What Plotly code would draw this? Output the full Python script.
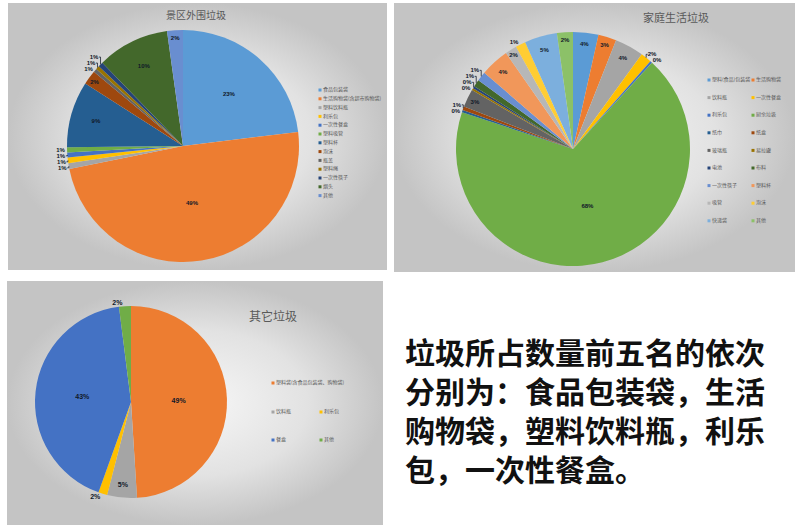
import plotly.graph_objects as go

W, H = 797, 527

# ---------------- data ----------------
title1 = "景区外围垃圾"
labels1 = ["食品包装袋", "生活购物袋(含超市购物袋)", "塑料饮料瓶", "利乐包", "一次性餐盒",
           "塑料吸管", "塑料杯", "泡沫", "瓶盖", "塑料绳", "一次性筷子", "烟头", "其他"]
values1 = [23, 48.6, 0.8, 0.8, 0.7, 0.7, 9.2, 2, 0.5, 0.5, 0.7, 10, 2.2]

title2 = "家庭生活垃圾"
labels2 = ["塑料(食品)包装袋", "生活购物袋", "饮料瓶", "一次性餐盒", "利乐包", "厨余垃圾",
           "纸巾", "纸盒", "玻璃瓶", "易拉罐", "电池", "布料", "一次性筷子", "塑料杯",
           "吸管", "泡沫", "快递袋", "其他"]
values2 = [3.5, 2.5, 4, 1.5, 0.3, 68.3, 0.3, 0.5, 2.5, 0.3, 0.3, 1, 1.3, 4, 1.6, 1.4, 4.5, 2.2]

title3 = "其它垃圾"
labels3 = ["塑料袋(含食品包装袋、购物袋)", "饮料瓶", "利乐包", "餐盒", "其他"]
values3 = [49, 5, 1.5, 42.5, 2]

summary = ["垃圾所占数量前五名的依次", "分别为：食品包装袋，生活", "购物袋，塑料饮料瓶，利乐", "包，一次性餐盒。"]

# ---------------- styles ----------------
office = ["#5B9BD5", "#ED7D31", "#A5A5A5", "#FFC000", "#4472C4", "#70AD47",
          "#255E91", "#9E480E", "#636363", "#997300", "#264478", "#43682B",
          "#698ED0", "#F1975A", "#B7B7B7", "#FFCD33", "#7CAFDD", "#8CC168"]
colors3 = ["#ED7D31", "#A5A5A5", "#FFC000", "#4472C4", "#70AD47"]
CJK = "Noto Sans CJK SC"
LBL = "#101828"


def dom(cx, cy, r):
    return dict(x=[(cx - r) / W, (cx + r) / W], y=[1 - (cy + r) / H, 1 - (cy - r) / H])


fig = go.Figure()

# panel backgrounds (radial grey gradient)
panels = [(8, 3, 387, 270), (394, 3, 795, 272), (7, 281, 383, 525)]
for (x0, y0, x1, y1) in panels:
    fig.add_trace(go.Scatter(
        x=[x0, x1, x1, x0, x0], y=[y0, y0, y1, y1, y0], mode="lines",
        line=dict(width=0), fill="toself",
        fillgradient=dict(type="radial", colorscale=[[0, "#f7f7f7"], [0.6, "#e2e2e2"], [1, "#c4c4c4"]]),
        hoverinfo="skip", showlegend=False, xaxis="x", yaxis="y"))
# lighter legend box in panel 2
fig.add_shape(type="rect", xref="x", yref="y", x0=703, x1=795, y0=62, y1=236,
              fillcolor="rgba(250,250,250,0.75)", line=dict(width=0), layer="below")


def pie(values, labels, colors, d, fs=6):
    return go.Pie(values=values, labels=labels, sort=False, direction="clockwise", rotation=0,
                  marker=dict(colors=colors, line=dict(width=0)), domain=d,
                  textinfo="percent", texttemplate="<b>%{percent:.0%}</b>",
                  textfont=dict(size=fs, color=LBL, family="Arial"),
                  insidetextfont=dict(size=fs, color=LBL), outsidetextfont=dict(size=fs, color=LBL),
                  insidetextorientation="horizontal", showlegend=False, hoverinfo="label+percent")


fig.add_trace(pie(values1, labels1, office[:13], dom(183, 146, 116)))
fig.add_trace(pie(values2, labels2, office[:18], dom(573, 149, 117)))
fig.add_trace(pie(values3, labels3, colors3, dom(131, 402, 96), fs=7))


# custom legends
def legend(labels, colors, x0, y0, dx, dy, ncol, fs, ms):
    xs, ys = [], []
    for i in range(len(labels)):
        xs.append(x0 + (i % ncol) * dx)
        ys.append(y0 + (i // ncol) * dy)
    fig.add_trace(go.Scatter(x=xs, y=ys, mode="markers+text", text=labels,
                             textposition="middle right",
                             textfont=dict(size=fs, color="#595959", family=CJK),
                             marker=dict(symbol="square", size=ms, color=colors),
                             hoverinfo="skip", showlegend=False, xaxis="x", yaxis="y"))


legend(labels1, office[:13], 320, 90, 0, 8.8, 1, 5, 3)
legend(labels2, office[:18], 709, 80, 44, 17.6, 2, 5, 3)
legend(labels3[:1], colors3[:1], 273, 383, 0, 0, 1, 5, 3)
legend(labels3[1:], colors3[1:], 273, 412, 48, 28, 2, 5, 3)

annotations = [
    dict(text=title1, x=196 / W, y=1 - 15 / H, font=dict(size=10, color="#595959", family=CJK)),
    dict(text=title2, x=676 / W, y=1 - 17 / H, font=dict(size=11, color="#595959", family=CJK)),
    dict(text=title3, x=273 / W, y=1 - 315 / H, font=dict(size=12, color="#595959", family=CJK)),
    dict(text="<b>" + "<br>".join(summary) + "</b>", x=403 / W, y=1 - 327 / H,
         xanchor="left", yanchor="top", align="left",
         font=dict(size=30, color="#111111", family=CJK)),
]
for a in annotations:
    a.update(xref="paper", yref="paper", showarrow=False)
    a.setdefault("xanchor", "center")
    a.setdefault("yanchor", "middle")

fig.update_layout(
    width=W, height=H, margin=dict(l=0, r=0, t=0, b=0),
    paper_bgcolor="white", plot_bgcolor="rgba(0,0,0,0)",
    xaxis=dict(range=[0, W], visible=False, domain=[0, 1], fixedrange=True),
    yaxis=dict(range=[H, 0], visible=False, domain=[0, 1], fixedrange=True),
    annotations=annotations, showlegend=False,
)

fig.write_html("out.html")
